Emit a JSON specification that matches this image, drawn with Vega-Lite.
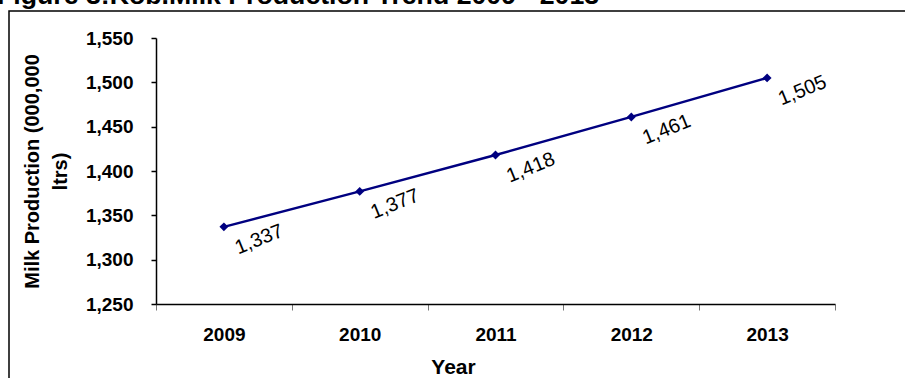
{
  "$schema": "https://vega.github.io/schema/vega-lite/v6.json",
  "width": 900,
  "height": 370,
  "autosize": {"type": "none"},
  "padding": {"left": 9, "top": 11, "right": 0, "bottom": 0},
  "background": "white",
  "title": {
    "text": "Figure 3:Kob.Milk Production Trend 2009 - 2013",
    "anchor": "start",
    "frame": "group",
    "font": "Liberation Sans",
    "fontSize": 26.7,
    "fontWeight": "bold",
    "color": "black",
    "baseline": "alphabetic",
    "offset": -20,
    "dx": -12
  },
  "config": {"view": {"stroke": "black", "strokeWidth": 1.5}},
  "data": {
    "values": [
      {"year": "2009", "value": 1337},
      {"year": "2010", "value": 1377},
      {"year": "2011", "value": 1418},
      {"year": "2012", "value": 1461},
      {"year": "2013", "value": 1505}
    ]
  },
  "encoding": {
    "x": {
      "field": "year",
      "type": "ordinal",
      "scale": {"type": "band", "range": [147, 826], "paddingInner": 0, "paddingOuter": 0},
      "axis": {
        "orient": "bottom",
        "offset": -77,
        "tickBand": "extent",
        "labelAngle": 0,
        "grid": false,
        "domainColor": "black",
        "domainWidth": 1.5,
        "tickColor": "#777777",
        "tickWidth": 1,
        "tickSize": 6,
        "labelFont": "Liberation Sans",
        "labelFontSize": 19,
        "labelFontWeight": "bold",
        "labelColor": "black",
        "labelPadding": 15,
        "title": "Year",
        "titleFont": "Liberation Sans",
        "titleFontSize": 21,
        "titleFontWeight": "bold",
        "titleColor": "black",
        "titlePadding": 12,
        "titleX": 444
      }
    },
    "y": {
      "field": "value",
      "type": "quantitative",
      "scale": {"domain": [1250, 1550], "range": [293, 27], "nice": false, "zero": false},
      "axis": {
        "orient": "left",
        "offset": -147,
        "values": [1250, 1300, 1350, 1400, 1450, 1500, 1550],
        "format": ",.0f",
        "grid": false,
        "domainColor": "black",
        "domainWidth": 1.5,
        "tickColor": "black",
        "tickWidth": 1.5,
        "tickSize": 5,
        "labelFont": "Liberation Sans",
        "labelFontSize": 19,
        "labelFontWeight": "bold",
        "labelColor": "black",
        "labelPadding": 18,
        "title": ["Milk Production (000,000", "ltrs)"],
        "titleFont": "Liberation Sans",
        "titleFontSize": 20,
        "titleFontWeight": "bold",
        "titleColor": "black",
        "titlePadding": 15,
        "titleLineHeight": 28
      }
    }
  },
  "layer": [
    {"mark": {"type": "line", "color": "#000080", "strokeWidth": 2.5}},
    {"mark": {"type": "point", "shape": "diamond", "filled": true, "size": 80, "color": "#000080", "opacity": 1}},
    {
      "mark": {"type": "text", "angle": 338, "dx": 28, "dy": 25, "font": "Liberation Sans", "fontSize": 20, "color": "black"},
      "encoding": {"text": {"field": "value", "type": "quantitative", "format": ",.0f"}}
    }
  ]
}
